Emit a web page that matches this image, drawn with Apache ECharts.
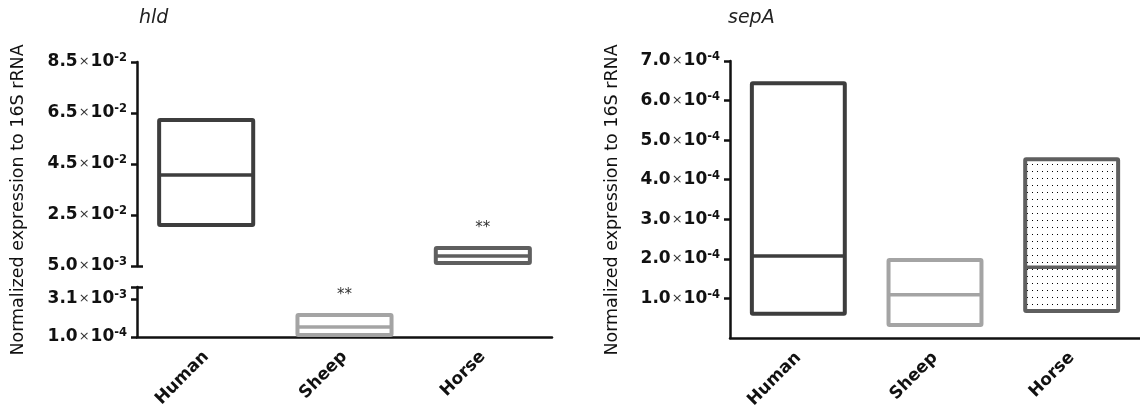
<!DOCTYPE html>
<html><head><meta charset="utf-8">
<script src="https://cdn.jsdelivr.net/npm/echarts@6/dist/echarts.min.js"></script>
<style>html,body{margin:0;padding:0;background:#fff}#c{width:1140px;height:416px}</style>
</head><body><div id="c"></div>
<script>
// ---------- data ----------
const categories = ['Human', 'Sheep', 'Horse'];
const hldLow = [0.0211, 0.00026, 0.0062];
const hldMedian = [0.0407, 0.00089, 0.0089];
const hldHigh = [0.0623, 0.00184, 0.0121];
const hldSignif = ['', '**', '**'];
const sepALow = [0.000061, 0.000033, 0.000068];
const sepAMedian = [0.000207, 0.000109, 0.000179];
const sepAHigh = [0.000644, 0.000197, 0.000452];
const sepASignif = ['', '', ''];
const hldBreakLow = 0.004047;  // top of lower segment
const hldBreakHigh = 0.005;    // bottom of upper segment
const hldUpperTicks = [0.005, 0.025, 0.045, 0.065, 0.085];
const hldUpperLabels = ['5.0×10^-3', '2.5×10^-2', '4.5×10^-2', '6.5×10^-2', '8.5×10^-2'];
const hldLowerTicks = [0.0001, 0.0031];
const hldLowerLabels = ['1.0×10^-4', '3.1×10^-3'];
const sepATicks = [0.0001, 0.0002, 0.0003, 0.0004, 0.0005, 0.0006, 0.0007];
const sepALabels = ['1.0×10^-4', '2.0×10^-4', '3.0×10^-4', '4.0×10^-4', '5.0×10^-4', '6.0×10^-4', '7.0×10^-4'];
const boxColors = ['#3d3d3d', '#a4a4a4', '#5f5f5f'];
const boxPatterned = [false, false, true];

// ---------- helpers ----------
const FONT = 'DejaVu Sans';
const pc = document.createElement('canvas');
pc.width = 5; pc.height = 7;
const pctx = pc.getContext('2d');
pctx.fillStyle = '#ffffff'; pctx.fillRect(0, 0, 5, 7);
pctx.fillStyle = '#000000'; pctx.fillRect(2, 3, 1, 1);
const dotPattern = { image: pc, repeat: 'repeat' };

function sciFormatter(ticks, labels) {
  return function (v) {
    for (let i = 0; i < ticks.length; i++) {
      if (Math.abs(ticks[i] - v) < 1e-12) {
        const parts = labels[i].split('×10^');
        return '{m|' + parts[0] + '}{x|×}{m|10}{s|' + parts[1] + '}';
      }
    }
    return '';
  };
}
const sciRich = {
  m: { fontFamily: FONT, fontWeight: 'bold', fontSize: 17, color: '#111', lineHeight: 19 },
  x: { fontFamily: FONT, fontWeight: 'normal', fontSize: 13, color: '#333', lineHeight: 19, padding: [0, 1, 0, 1] },
  s: { fontFamily: FONT, fontWeight: 'bold', fontSize: 11.5, color: '#111', verticalAlign: 'top', lineHeight: 11 }
};

function makeBoxData(low, med, high, filterFn) {
  const out = [];
  for (let i = 0; i < categories.length; i++) {
    if (filterFn(low[i])) out.push([i, low[i], med[i], high[i]]);
  }
  return out;
}
function makeRenderer(sigArr) {
  return function (params, api) {
    const i = api.value(0);
    const lo = api.coord([i, api.value(1)]);
    const me = api.coord([i, api.value(2)]);
    const hi = api.coord([i, api.value(3)]);
    const w = api.size([1, 0])[0] * 0.68;
    const x0 = lo[0] - w / 2;
    const color = boxColors[i];
    const sig = sigArr[i];
    const children = [
      { type: 'rect', shape: { x: x0, y: hi[1], width: w, height: lo[1] - hi[1], r: 1 },
        style: { fill: boxPatterned[i] ? dotPattern : '#fff', stroke: color, lineWidth: 4, lineJoin: 'round' } },
      { type: 'line', shape: { x1: x0, y1: me[1], x2: x0 + w, y2: me[1] },
        style: { stroke: color, lineWidth: 3.5 } }
    ];
    if (sig) {
      children.push({ type: 'text', style: { text: sig, x: lo[0], y: hi[1] - 20, align: 'center', verticalAlign: 'middle',
        font: '15px "' + FONT + '"', fill: '#333' } });
    }
    return { type: 'group', children: children };
  };
}

const axisLineStyle = { color: '#111', width: 2.5 };
const xAxisBase = {
  type: 'category', data: categories, boundaryGap: true,
  axisLine: { lineStyle: axisLineStyle },
  axisTick: { alignWithLabel: true, length: 6, lineStyle: axisLineStyle },
  axisLabel: { rotate: 45, margin: 17, fontFamily: FONT, fontWeight: 'bold', fontSize: 17, color: '#111' },
  splitLine: { show: false }
};

const chart = echarts.init(document.getElementById('c'), null, { renderer: 'canvas' });
chart.setOption({
  animation: false,
  backgroundColor: '#fff',
  grid: [
    { left: 137, top: 62, width: 415, height: 204 },
    { left: 137, top: 287, width: 415, height: 50 },
    { left: 730, top: 61, width: 418, height: 277 }
  ],
  xAxis: [
    Object.assign({}, xAxisBase, { gridIndex: 0, show: false }),
    Object.assign({}, xAxisBase, { gridIndex: 1 }),
    Object.assign({}, xAxisBase, { gridIndex: 2 })
  ],
  yAxis: [
    { type: 'value', gridIndex: 0, position: 'left', min: hldBreakHigh, max: 0.085,
      axisLine: { show: true, lineStyle: axisLineStyle },
      axisTick: { show: true, length: 6, lineStyle: axisLineStyle, customValues: hldUpperTicks },
      axisLabel: { margin: 10, customValues: hldUpperTicks, formatter: sciFormatter(hldUpperTicks, hldUpperLabels), rich: sciRich },
      splitLine: { show: false } },
    { type: 'value', gridIndex: 0, position: 'left', min: hldBreakHigh, max: 0.085,
      axisLine: { show: false }, axisLabel: { show: false }, splitLine: { show: false },
      axisTick: { show: true, inside: true, length: 6, lineStyle: axisLineStyle, customValues: [hldBreakHigh] } },
    { type: 'value', gridIndex: 1, position: 'left', min: 0.0001, max: hldBreakLow,
      axisLine: { show: true, lineStyle: axisLineStyle },
      axisTick: { show: true, length: 6, lineStyle: axisLineStyle, customValues: hldLowerTicks.concat([hldBreakLow]) },
      axisLabel: { margin: 10, customValues: hldLowerTicks, formatter: sciFormatter(hldLowerTicks, hldLowerLabels), rich: sciRich },
      splitLine: { show: false } },
    { type: 'value', gridIndex: 1, position: 'left', min: 0.0001, max: hldBreakLow,
      axisLine: { show: false }, axisLabel: { show: false }, splitLine: { show: false },
      axisTick: { show: true, inside: true, length: 6, lineStyle: axisLineStyle, customValues: [hldBreakLow] } },
    { type: 'value', gridIndex: 2, position: 'left', min: 0, max: 0.0007,
      axisLine: { show: true, lineStyle: axisLineStyle },
      axisTick: { show: true, length: 6, lineStyle: axisLineStyle, customValues: sepATicks },
      axisLabel: { margin: 10, customValues: sepATicks, formatter: sciFormatter(sepATicks, sepALabels), rich: sciRich },
      splitLine: { show: false } }
  ],
  series: [
    { type: 'custom', xAxisIndex: 0, yAxisIndex: 0, renderItem: makeRenderer(hldSignif), clip: false,
      data: makeBoxData(hldLow, hldMedian, hldHigh, v => v >= hldBreakHigh) },
    { type: 'custom', xAxisIndex: 1, yAxisIndex: 2, renderItem: makeRenderer(hldSignif), clip: false,
      data: makeBoxData(hldLow, hldMedian, hldHigh, v => v < hldBreakHigh) },
    { type: 'custom', xAxisIndex: 2, yAxisIndex: 4, renderItem: makeRenderer(sepASignif), clip: false,
      data: makeBoxData(sepALow, sepAMedian, sepAHigh, v => true) }
  ],
  graphic: [
    { type: 'text', left: 139, top: 9, style: { text: 'hld', font: 'italic 19px "' + FONT + '"', fill: '#222' } },
    { type: 'text', left: 728, top: 9, style: { text: 'sepA', font: 'italic 19px "' + FONT + '"', fill: '#222' } },
    { type: 'text', x: 18, y: 200, rotation: Math.PI / 2,
      style: { text: 'Normalized expression to 16S rRNA', font: '17.5px "' + FONT + '"', fill: '#111', align: 'center', verticalAlign: 'middle' } },
    { type: 'text', x: 612, y: 200, rotation: Math.PI / 2,
      style: { text: 'Normalized expression to 16S rRNA', font: '17.5px "' + FONT + '"', fill: '#111', align: 'center', verticalAlign: 'middle' } }
  ]
});
</script>
</body></html>
